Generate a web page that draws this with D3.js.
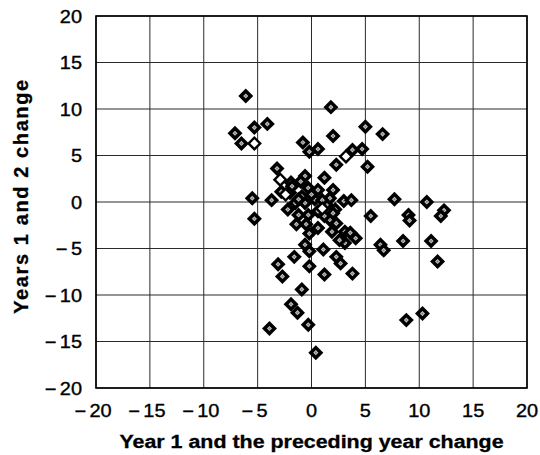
<!DOCTYPE html>
<html>
<head>
<meta charset="utf-8">
<script src="https://cdn.jsdelivr.net/npm/d3@7"></script>
<style>
  html, body { margin: 0; padding: 0; background: #fff; }
  svg { display: block; }
  text { font-family: "Liberation Sans", Arial, Helvetica, sans-serif; fill: #000; }
</style>
</head>
<body>
<svg id="chart" width="540" height="455"></svg>
<script>
// Tick values on both axes
const xTicks = [-20, -15, -10, -5, 0, 5, 10, 15, 20];
const yTicks = [-20, -15, -10, -5, 0, 5, 10, 15, 20];

// Change between year 1 and the preceding year (x) vs change over years 1 and 2 (y)
const xChange = [
  -6.1, 1.8, -7.1, -5.3, -4.1, -6.5, 2.0, 5.0, 6.6, -0.8,
  -0.2, 0.6, 3.8, 4.7, 2.3, 5.2, -3.2, -5.5, -5.3, -3.7,
  7.7, 10.7, 12.3, 12.0, 5.5, 9.0, 9.1, 8.5, 11.1, 11.7,
  6.4, 6.7, 4.1, 3.1, 2.3, 2.7, 3.8, 1.2, 1.1, -0.6,
  -0.2, -0.2, -1.6, -3.1, -2.7, -0.9, -1.9, -1.3, -0.3, -3.9,
  0.4, 8.8, 10.3,
  -1.9, -0.6, -1.0, 1.2, 2.0, 0.6, -0.3, -2.0, -2.8, -1.5,
  -2.2, 3.0, 3.7, 0.3, -0.6, 1.4, -1.2, -0.3, 0.6, 2.2,
  1.7, 0.6, -0.5, -1.4, 2.3, 3.1, 1.9, 2.6, -0.9, 1.7,
  0.0, 1.0, -1.2, 2.0, 1.2, -0.2, 3.6, -1.8
];
const yChange = [
  11.4, 10.2, 7.4, 8.0, 8.4, 6.3, 7.1, 8.1, 7.3, 6.4,
  5.4, 5.7, 5.6, 5.7, 4.0, 3.8, 3.6, 0.4, -1.8, 0.2,
  0.3, 0.0, -0.9, -1.5, -1.5, -1.4, -2.0, -4.2, -4.2, -6.4,
  -4.6, -5.2, -3.9, -4.4, -5.9, -6.6, -7.7, -7.8, -5.1, -4.6,
  -5.3, -6.9, -5.9, -6.7, -8.0, -9.4, -11.0, -11.9, -13.2, -13.6,
  -16.2, -12.7, -12.0,
  2.1, 2.8, 2.2, 2.6, 1.3, 1.3, 1.5, 1.0, 1.1, -0.1,
  -0.8, 0.1, 0.2, 0.3, -0.1, -0.3, -1.4, -1.4, -1.0, -0.8,
  -1.9, -2.8, -2.4, -2.4, -2.3, -3.2, -3.2, -4.1, 0.6, 0.4,
  0.8, 0.2, 0.3, -1.2, -1.5, -3.4, -3.3, 1.7
];

// Points drawn with an open (white-centred) diamond
const xOpen = [-5.3, 3.2, -2.9, 1.0, -2.4];
const yOpen = [6.3, 4.9, 2.4, -0.7, 0.8];

const svg = d3.select("#chart");
const margin = { left: 96, right: 13, top: 16, bottom: 67 };
const W = 540, H = 455;

const x = d3.scaleLinear().domain([-20, 20]).range([margin.left, W - margin.right]);
const y = d3.scaleLinear().domain([-20, 20]).range([H - margin.bottom, margin.top]);

// Grid
const grid = svg.append("g").attr("stroke", "#2a2a2a").attr("stroke-width", 1);
grid.selectAll("line.v").data(xTicks).join("line")
  .attr("x1", d => x(d)).attr("x2", d => x(d))
  .attr("y1", y(20)).attr("y2", y(-20));
grid.selectAll("line.h").data(yTicks).join("line")
  .attr("y1", d => y(d)).attr("y2", d => y(d))
  .attr("x1", x(-20)).attr("x2", x(20));

// Frame
svg.append("rect")
  .attr("x", x(-20)).attr("y", y(20))
  .attr("width", x(20) - x(-20)).attr("height", y(-20) - y(20))
  .attr("fill", "none").attr("stroke", "#000").attr("stroke-width", 1.6);

// Tick label with a long minus sign for negatives
function tickText(sel, d) {
  if (d < 0) {
    sel.append("tspan").text("\u2212");
    sel.append("tspan").attr("dx", 3).text(Math.abs(d));
  } else {
    sel.text(d);
  }
}

const stretch = 1.14;

// X axis tick labels
const xAxis = svg.append("g");
xTicks.forEach(d => {
  const t = xAxis.append("text")
    .attr("transform", `translate(${x(d) + (d < 0 ? -3 : 0)},${y(-20) + 29}) scale(${stretch},1)`)
    .attr("text-anchor", "middle")
    .attr("font-size", 17.5)
    .attr("stroke", "#000").attr("stroke-width", 0.35);
  tickText(t, d);
});

// Y axis tick labels
const yAxis = svg.append("g");
yTicks.forEach(d => {
  const t = yAxis.append("text")
    .attr("transform", `translate(${x(-20) - 14},${y(d) + 6.5}) scale(${stretch},1)`)
    .attr("text-anchor", "end")
    .attr("font-size", 17.5)
    .attr("stroke", "#000").attr("stroke-width", 0.35);
  tickText(t, d);
});

// Axis titles
svg.append("text")
  .attr("transform", `translate(${(x(-20) + x(20)) / 2},448) scale(1.19,1)`)
  .attr("text-anchor", "middle")
  .attr("font-size", 18)
  .attr("font-weight", "bold")
  .attr("stroke", "#000").attr("stroke-width", 0.3)
  .text("Year 1 and the preceding year change");

svg.append("text")
  .attr("transform", `translate(28,196) rotate(-90)`)
  .attr("text-anchor", "middle")
  .attr("font-size", 20)
  .attr("font-weight", "bold")
  .attr("letter-spacing", 1.6)
  .attr("stroke", "#000").attr("stroke-width", 0.3)
  .text("Years 1 and 2 change");

// Markers: black diamond with a light textured centre
const outer = d3.symbol(d3.symbolSquare, 112)();
const inner = d3.symbol(d3.symbolSquare, 13)();
const dot = d3.symbol(d3.symbolSquare, 3)();
const openInner = d3.symbol(d3.symbolSquare, 34)();

const pts = xChange.map((v, i) => ({ x: v, y: yChange[i], open: false }))
  .concat(xOpen.map((v, i) => ({ x: v, y: yOpen[i], open: true })));

const marks = svg.append("g").selectAll("g").data(pts).join("g")
  .attr("transform", d => `translate(${x(d.x)},${y(d.y)}) rotate(45)`);
marks.append("path").attr("d", outer).attr("fill", "#000");
marks.filter(d => !d.open).append("path").attr("d", inner).attr("fill", "#c4c4c4");
marks.filter(d => !d.open).append("path").attr("d", dot).attr("fill", "#808080");
marks.filter(d => d.open).append("path").attr("d", openInner).attr("fill", "#fff");
</script>
</body>
</html>
